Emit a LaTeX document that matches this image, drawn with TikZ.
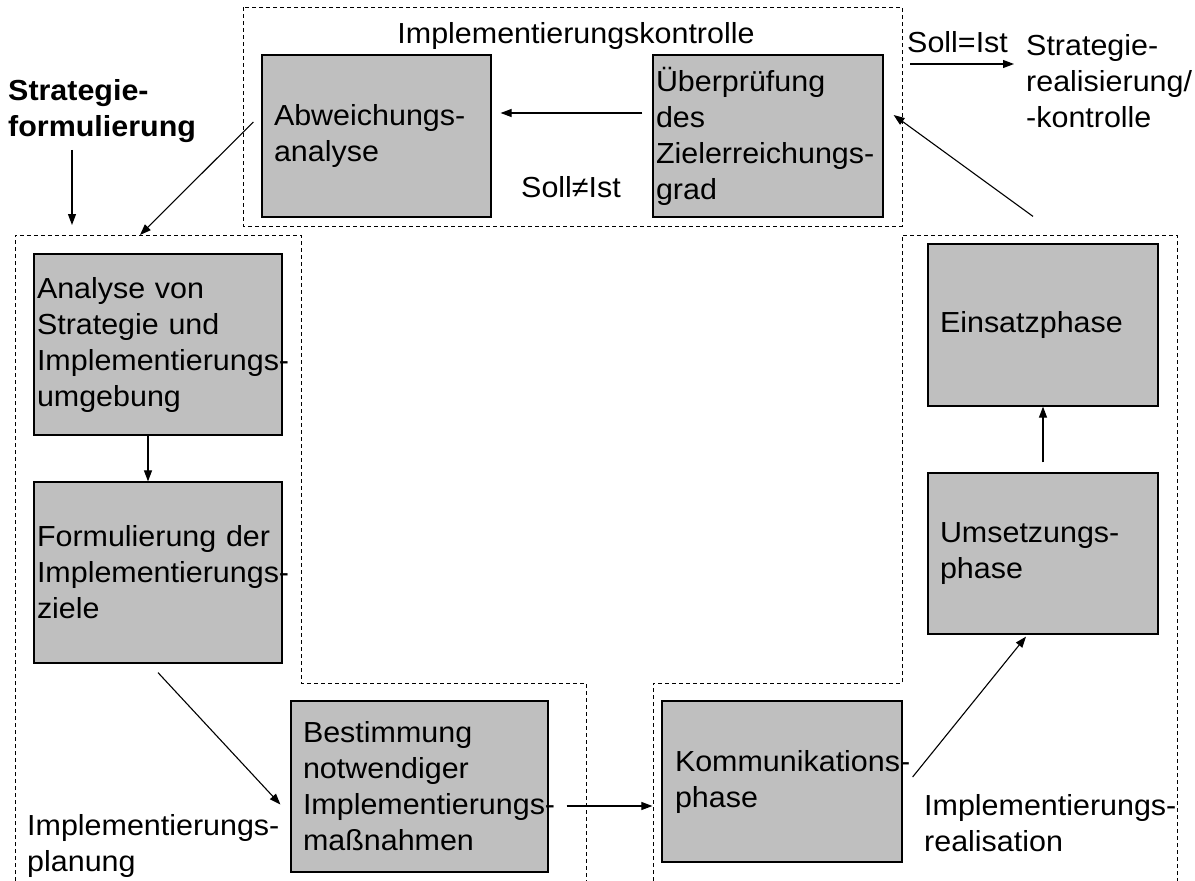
\documentclass[tikz,border=0pt]{standalone}
\usepackage{fontspec}
\setmainfont{Liberation Sans}[FakeStretch=1.05]
\usetikzlibrary{arrows.meta}
\exhyphenpenalty=10000

\begin{document}
\begin{tikzpicture}[x=1pt, y=-1pt]
\tikzset{kasten/.style={draw, line width=1.2pt, fill=gray!50, align=left, inner ysep=0pt},
  etikett/.style={inner sep=0pt, align=left},
  rahmen/.style={dash pattern=on 4pt off 3pt, line width=0.9pt},
  pfeil/.style={-{Triangle[length=11pt, width=8pt]}, line width=1.1pt},
  every node/.style={font=\fontsize{29}{36}\selectfont}}
\useasboundingbox (0,0) rectangle (1195,881);
% gestrichelte Bereiche
\draw[rahmen] (243,7) rectangle (902,226);
\draw[rahmen] (15,881) -- (15,235) -- (301,235) -- (301,683) -- (586,683) -- (586,881);
\draw[rahmen] (653,881) -- (653,683) -- (902,683) -- (902,235) -- (1177,235) -- (1177,881);
% Kontrolle
\node[kasten, text width=205pt, inner xsep=12pt, minimum height=162pt] (K2) at (376.5,136) {Abweichungs-\\analyse};
\node[kasten, text width=224pt, inner xsep=3pt, minimum height=162pt] (K1) at (768,136) {Überprüfung\\des\\Zielerreichungs-\\grad};
% Planung
\node[kasten, text width=242pt, inner xsep=3pt, minimum height=181pt] (P1) at (158,344.5) {Analyse von\\Strategie und\\Implementierungs-\\umgebung};
\node[kasten, text width=242pt, inner xsep=3pt, minimum height=181pt] (P2) at (158,572.5) {Formulierung der\\Implementierungs-\\ziele};
\node[kasten, text width=233pt, inner xsep=12pt, minimum height=171pt] (P3) at (419.5,786.5) {Bestimmung\\notwendiger\\Implementierungs-\\maßnahmen};
% Realisation
\node[kasten, text width=214pt, inner xsep=13pt, minimum height=161pt] (R1) at (782,781.5) {Kommunikations-\\phase};
\node[kasten, text width=206pt, inner xsep=12pt, minimum height=161pt] (R2) at (1043,553.5) {Umsetzungs-\\phase};
\node[kasten, text width=206pt, inner xsep=12pt, minimum height=162pt] (R3) at (1043,325) {Einsatzphase};
% Beschriftungen
\node[etikett, anchor=west, font=\fontsize{29}{36}\selectfont\bfseries] (L1) at (8,111) {Strategie-\\formulierung};
\node[etikett, anchor=base] (L2) at (576,43) {Implementierungskontrolle};
\node[etikett, anchor=base west] (L3) at (521,197) {Soll≠Ist};
\node[etikett, anchor=base west] (L4) at (907,52) {Soll=Ist};
\node[etikett, anchor=west] (L5) at (1026,81) {Strategie-\\realisierung/\\-kontrolle};
\node[etikett, anchor=west] (L6) at (924,823) {Implementierungs-\\realisation};
\node[etikett, anchor=west] (L7) at (27,846) {Implementierungs-\\planung};
% Pfeile
\coordinate (PO) at (72,225);
\coordinate (PA) at (140,235);
\coordinate (SI) at ([yshift=-12pt]L4.base west);
\draw[pfeil, shorten <=7pt] (L1.south -| PO) -- (PO);
\draw[pfeil] ([shift={(-8pt,14pt)}]K2.west) -- (PA);
\draw[pfeil, shorten <=10pt, shorten >=9pt] ([yshift=23pt]K1.west) -- ([yshift=23pt]K2.east);
\draw[pfeil, shorten <=3pt, shorten >=12pt] (SI) -- (SI -| L5.west);
\draw[pfeil] ([xshift=-10pt]P1.south) -- ([xshift=-10pt]P2.north);
\draw[pfeil] ([yshift=-9pt]P2.south) -- ([shift={(-10pt,-18pt)}]P3.west);
\draw[pfeil] ([shift={(18pt,-19.5pt)}]P3.east) -- ([shift={(-9pt,-24.5pt)}]R1.west);
\draw[pfeil] ([shift={(10pt,4.5pt)}]R1.east) -- ([shift={(-17pt,-2pt)}]R2.south);
\draw[pfeil, shorten <=10pt] (R2.north) -- (R3.south);
\draw[pfeil] ([shift={(-10pt,27pt)}]R3.north) -- ([shift={(10pt,21pt)}]K1.east);
\end{tikzpicture}
\end{document}
